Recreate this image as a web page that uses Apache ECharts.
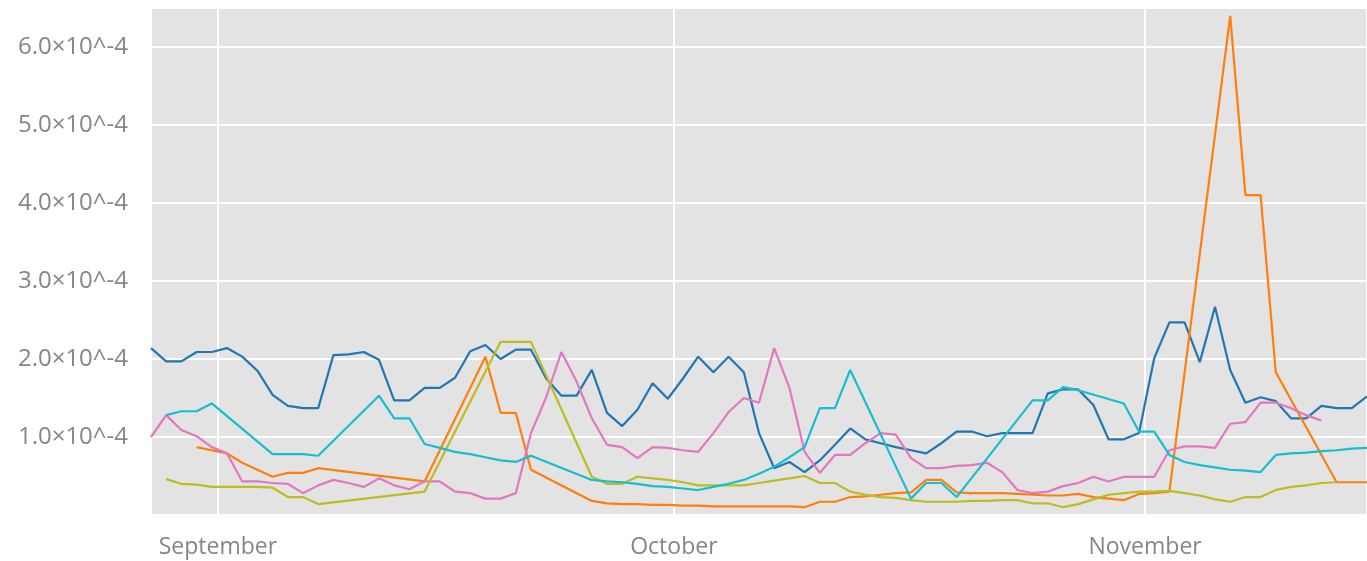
<!DOCTYPE html>
<html>
<head>
<meta charset="utf-8">
<script src="https://cdn.jsdelivr.net/npm/echarts@6/dist/echarts.min.js"></script>
<style>
html,body{margin:0;padding:0;background:#fff;}
#chart{width:1367px;height:561px;}
</style>
</head>
<body>
<div id="chart"></div>
<script>
// Daily observations, first point on 27 Aug 14:24, one point per day (81 days).
const startDate = [2016, 7, 27, 14, 24];
const dayCount = 81;
const monthNames = ['January','February','March','April','May','June','July','August','September','October','November','December'];
const yTickValues = [1, 2, 3, 4, 5, 6]; // in units of 1e-4
const yUnit = 1e-4;

// Values in units of 1e-4; null = no point that day
const seriesBlue = [2.14,1.97,1.97,2.09,2.09,2.14,2.03,1.85,1.54,1.40,
 1.37,1.37,2.05,2.06,2.09,1.99,1.47,1.47,1.63,1.63,
 1.76,2.10,2.18,2.00,2.12,2.12,1.75,1.53,1.53,1.86,
 1.31,1.14,1.35,1.69,1.49,1.75,2.03,1.83,2.03,1.83,
 1.05,0.60,0.68,0.55,0.70,0.90,1.11,0.97,0.92,0.87,
 0.83,0.79,0.92,1.07,1.07,1.01,1.05,1.05,1.05,1.56,
 1.61,1.61,1.41,0.97,0.97,1.05,2.01,2.47,2.47,1.96,
 2.67,1.86,1.44,1.51,1.46,1.24,1.24,1.40,1.37,1.37,
 1.52];
const seriesOrange = [null,null,null,0.87,0.83,0.79,0.67,0.58,0.49,0.54,
 0.54,0.60,null,null,null,null,null,null,0.43,null,
 null,null,2.03,1.31,1.31,0.58,null,null,null,0.18,
 0.15,0.14,0.14,0.13,0.13,0.12,0.12,0.11,0.11,0.11,
 0.11,0.11,0.11,0.10,0.17,0.17,0.23,0.24,0.26,0.28,
 0.29,0.45,0.45,0.29,0.28,0.28,0.28,0.27,0.26,0.25,
 0.25,0.27,0.23,0.21,0.19,0.27,0.28,0.30,null,null,
 null,6.40,4.10,4.10,1.83,null,null,null,0.42,0.42,
 0.42];
const seriesPink = [1.00,1.28,1.09,1.01,0.87,0.79,0.43,0.43,0.41,0.40,
 0.28,0.38,0.45,0.41,0.36,0.47,0.38,0.33,0.43,0.43,
 0.30,0.28,0.21,0.21,0.28,1.05,1.51,2.09,1.71,1.24,
 0.90,0.87,0.73,0.87,0.86,0.83,0.81,1.05,1.32,1.50,
 1.44,2.14,1.63,0.81,0.54,0.77,0.77,0.92,1.05,1.03,
 0.73,0.60,0.60,0.63,0.64,0.67,0.55,0.32,0.28,0.30,
 0.37,0.41,0.49,0.43,0.49,0.49,0.49,0.83,0.88,0.88,
 0.86,1.17,1.19,1.44,1.44,1.37,1.28,1.21,null,null,
 null];
const seriesOlive = [null,0.46,0.40,0.39,0.36,0.36,0.36,0.36,0.35,0.23,
 0.23,0.14,null,null,null,null,null,null,0.30,null,
 null,null,null,2.22,2.22,2.22,null,null,null,0.49,
 0.40,0.40,0.49,0.47,0.45,0.42,0.38,0.38,0.38,0.38,
 0.41,0.44,0.47,0.50,0.41,0.41,0.30,0.26,0.23,0.22,
 0.19,0.17,0.17,0.17,0.18,0.18,0.19,0.19,0.15,0.15,
 0.10,0.14,0.20,0.26,0.28,0.30,0.30,0.31,0.28,0.25,
 0.20,0.17,0.23,0.23,0.32,0.36,0.38,0.41,0.42,null,
 null];
const seriesCyan = [null,1.28,1.33,1.33,1.43,null,null,null,0.78,0.78,
 0.78,0.76,null,null,null,1.53,1.24,1.24,0.91,0.86,
 0.81,0.78,0.74,0.70,0.68,0.76,null,null,null,0.45,
 0.43,0.42,0.40,0.37,0.36,0.34,0.32,0.36,0.40,0.45,
 0.53,0.62,0.74,0.87,1.37,1.37,1.86,null,null,null,
 0.21,0.41,0.41,0.23,null,null,null,null,1.47,1.47,
 1.64,1.60,null,null,1.43,1.07,1.07,0.77,0.68,0.64,
 0.61,0.58,0.57,0.55,0.77,0.79,0.80,0.82,0.83,0.85,
 0.86];

const seriesList = [
  {name: 'A', values: seriesBlue, color: '#1f77b4'},
  {name: 'B', values: seriesOrange, color: '#ff7f0e'},
  {name: 'C', values: seriesPink, color: '#e377c2'},
  {name: 'D', values: seriesOlive, color: '#bcbd22'},
  {name: 'E', values: seriesCyan, color: '#17becf'}
];

const dayMs = 86400000;
function dayTime(i) {
  const d = new Date(startDate[0], startDate[1], startDate[2] + i, startDate[3], startDate[4]);
  return d.getTime();
}
const t0 = dayTime(0);
const tEnd = dayTime(dayCount - 1);

function buildData(values) {
  const out = [];
  values.forEach(function (v, i) {
    if (v !== null) out.push([dayTime(i), v * yUnit]);
  });
  return out;
}

const labelFont = '"Open Sans", "Liberation Sans", Arial, sans-serif';

const chart = echarts.init(document.getElementById('chart'));
chart.setOption({
  animation: false,
  backgroundColor: '#ffffff',
  grid: {
    left: 151, right: 0, top: 8, bottom: 46,
    show: true, backgroundColor: '#e3e3e3', borderWidth: 0,
    containLabel: false
  },
  xAxis: {
    type: 'time',
    min: t0,
    max: tEnd,
    minInterval: 28 * dayMs,
    splitNumber: 3,
    axisLine: {show: false},
    axisTick: {show: false},
    axisLabel: {
      color: '#868686',
      fontFamily: labelFont,
      fontSize: 23,
      margin: 21,
      showMinLabel: false,
      showMaxLabel: false,
      formatter: function (v) {
        const d = new Date(v);
        if (d.getDate() === 1 && d.getHours() === 0 && d.getMinutes() === 0) {
          return monthNames[d.getMonth()];
        }
        return '';
      }
    },
    splitLine: {show: true, lineStyle: {color: '#ffffff', width: 2}}
  },
  yAxis: {
    type: 'value',
    min: 0,
    max: 6.5 * yUnit,
    interval: yUnit,
    axisLine: {show: false},
    axisTick: {show: false},
    axisLabel: {
      color: '#868686',
      fontFamily: labelFont,
      fontSize: 24,
      margin: 23,
      formatter: function (v) {
        const u = v / yUnit;
        const r = Math.round(u);
        if (Math.abs(u - r) < 1e-6 && yTickValues.indexOf(r) >= 0) {
          return r.toFixed(1) + '×10^-4';
        }
        return '';
      }
    },
    splitLine: {show: true, lineStyle: {color: '#ffffff', width: 2}}
  },
  series: seriesList.map(function (s) {
    return {
      name: s.name,
      type: 'line',
      data: buildData(s.values),
      showSymbol: false,
      symbol: 'none',
      lineStyle: {width: 2.2, color: s.color},
      itemStyle: {color: s.color},
      z: 2
    };
  })
});
</script>
</body>
</html>
